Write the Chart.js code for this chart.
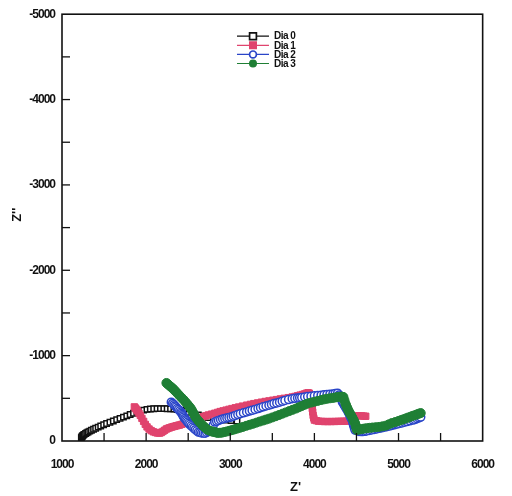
<!DOCTYPE html>
<html>
<head>
<meta charset="utf-8">
<script src="https://cdn.jsdelivr.net/npm/chart.js@4/dist/chart.umd.min.js"></script>
<style>
  html, body { margin: 0; padding: 0; background: #fff; }
  #wrap { width: 512px; height: 496px; }
</style>
</head>
<body>
<div id="wrap"><canvas id="c" width="512" height="496"></canvas></div>
<script>
// Impedance spectra (Nyquist form): Z' in ohm, Z'' in ohm (negative = capacitive)
const seriesNames = ['Dia 0', 'Dia 1', 'Dia 2', 'Dia 3'];

const dia0Re = [1230,1235,1240,1245,1255,1265,1280,1295,1310,1330,1350,1375,1400,1430,1460,1495,1530,1570,1610,1650,1690,1730,1770,1810,1850,1890,1930,1970,2010,2050,2090,2130,2170,2210,2250,2290,2330,2370,2410,2460,2510,2560,2620,2680,2740,2800,2870,2940,3010,3080];
const dia0Im = [-40,-48,-55,-62,-70,-78,-88,-97,-106,-116,-126,-138,-150,-163,-176,-190,-205,-220,-235,-250,-265,-280,-295,-310,-325,-340,-352,-362,-370,-375,-378,-380,-380,-380,-378,-376,-373,-368,-360,-348,-335,-320,-305,-290,-275,-262,-252,-244,-238,-235];

const dia1Re = [1860,1870,1880,1890,1900,1915,1931,1950,1970,1990,2011,2035,2060,2085,2110,2135,2160,2180,2200,2220,2240,2260,2280,2300,2320,2340,2360,2380,2400,2425,2450,2478,2506,2533,2560,2590,2620,2650,2680,2710,2740,2778,2816,2850,2880,2915,2950,2985,3020,3060,3100,3145,3195,3240,3280,3325,3370,3415,3460,3505,3550,3595,3640,3690,3736,3770,3800,3830,3860,3885,3905,3925,3940,3950,3960,3968,3975,3980,3985,3992,4000,4025,4050,4085,4120,4160,4200,4240,4280,4315,4350,4385,4420,4435,4450,4475,4500,4530,4560,4585,4610];
const dia1Im = [-400,-388,-375,-362,-350,-325,-300,-265,-230,-195,-165,-140,-122,-108,-100,-94,-92,-100,-112,-126,-140,-148,-155,-162,-168,-173,-178,-183,-188,-196,-205,-215,-225,-235,-245,-255,-265,-275,-285,-295,-305,-315,-325,-335,-345,-353,-362,-371,-380,-389,-398,-409,-420,-429,-438,-446,-455,-463,-470,-478,-485,-493,-500,-508,-515,-522,-530,-538,-545,-552,-560,-565,-560,-520,-460,-420,-380,-340,-300,-270,-245,-238,-232,-230,-228,-228,-228,-229,-230,-231,-232,-233,-235,-260,-285,-290,-295,-295,-295,-292,-290];

const dia2Re = [2299,2315,2330,2343,2356,2370,2385,2400,2414,2423,2432,2440,2448,2459,2470,2482,2494,2507,2520,2536,2552,2568,2585,2603,2621,2640,2660,2680,2701,2720,2740,2760,2780,2798,2816,2838,2860,2885,2910,2935,2960,2985,3011,3035,3060,3090,3120,3157,3195,3228,3260,3295,3330,3360,3391,3425,3460,3490,3520,3553,3586,3618,3650,3693,3736,3768,3800,3825,3850,3885,3920,3960,4000,4040,4080,4115,4150,4185,4220,4248,4276,4293,4310,4322,4333,4347,4360,4375,4390,4405,4420,4434,4448,4457,4465,4474,4483,4506,4530,4553,4575,4598,4620,4650,4680,4710,4740,4770,4800,4830,4860,4890,4920,4950,4980,5010,5040,5070,5100,5136,5172,5196,5220,5242,5264];
const dia2Im = [-455,-440,-425,-411,-397,-382,-368,-353,-339,-325,-310,-295,-280,-265,-250,-236,-222,-207,-193,-178,-164,-148,-133,-119,-105,-100,-95,-93,-92,-100,-110,-128,-150,-185,-222,-231,-240,-249,-258,-264,-270,-275,-280,-290,-300,-310,-320,-330,-340,-350,-360,-370,-380,-390,-400,-410,-420,-429,-438,-446,-455,-465,-475,-485,-495,-500,-505,-508,-510,-515,-520,-525,-530,-534,-537,-541,-545,-549,-552,-556,-560,-540,-520,-488,-455,-432,-410,-386,-362,-331,-300,-272,-245,-215,-185,-156,-128,-120,-112,-111,-110,-114,-118,-124,-130,-136,-142,-148,-155,-161,-168,-175,-182,-190,-198,-205,-212,-220,-228,-236,-245,-253,-262,-271,-280];

const dia3Re = [2241,2255,2270,2285,2300,2315,2330,2343,2356,2378,2400,2424,2448,2469,2490,2510,2529,2545,2560,2573,2586,2605,2625,2646,2667,2683,2700,2718,2736,2758,2780,2798,2816,2833,2850,2875,2900,2930,2960,2990,3020,3050,3080,3115,3150,3190,3230,3270,3310,3350,3390,3425,3460,3500,3540,3580,3620,3660,3700,3740,3780,3815,3850,3885,3920,3960,4000,4040,4080,4115,4150,4185,4220,4248,4276,4298,4320,4333,4345,4357,4368,4377,4385,4394,4402,4414,4425,4437,4448,4457,4465,4474,4483,4489,4495,4500,4505,4533,4560,4590,4620,4655,4690,4730,4770,4810,4850,4885,4920,4960,5000,5030,5060,5088,5115,5143,5170,5195,5220,5242,5264];
const dia3Im = [-680,-668,-655,-642,-630,-616,-602,-588,-575,-552,-528,-504,-480,-456,-432,-408,-385,-358,-332,-306,-280,-256,-233,-210,-187,-172,-157,-142,-128,-120,-112,-108,-105,-100,-95,-96,-98,-105,-112,-120,-128,-136,-145,-155,-165,-178,-190,-202,-215,-228,-240,-251,-262,-276,-290,-305,-320,-335,-350,-365,-380,-395,-410,-425,-440,-450,-460,-470,-480,-488,-495,-500,-505,-510,-515,-518,-520,-518,-515,-478,-440,-420,-400,-380,-360,-340,-320,-300,-280,-262,-245,-228,-210,-190,-170,-149,-128,-134,-140,-145,-150,-154,-158,-162,-165,-172,-180,-195,-210,-222,-235,-245,-255,-265,-275,-285,-295,-303,-312,-320,-327];

// Axis ranges and tick labels
const xMin = 1000, xMax = 6000, xStep = 500;
const yMin = -5000, yMax = 0, yStep = 500;
const xTickLabels = ['1000', '2000', '3000', '4000', '5000', '6000'];
const yTickLabels = ['0', '-1000', '-2000', '-3000', '-4000', '-5000'];
const xTitle = "Z'";
const yTitle = "Z''";

const toPoints = (re, im) => re.map((v, i) => ({ x: v, y: im[i] }));

const tickFont = { family: "'Liberation Sans Narrow', 'Arial Narrow', 'Liberation Sans', Arial, sans-serif", size: 12, weight: 'bold' };

const styles = [
  { color: '#111111', bg: '#ffffff', pointStyle: 'rect', radius: 3.8, bw: 1.5 },
  { color: '#e0446e', bg: '#e0446e', pointStyle: 'rect', radius: 4.5, bw: 1 },
  { color: '#2a45c8', bg: '#ffffff', pointStyle: 'circle', radius: 4.0, bw: 1.5 },
  { color: '#1f7f35', bg: '#1f7f35', pointStyle: 'circle', radius: 4.5, bw: 1 }
];

const seriesData = [
  toPoints(dia0Re, dia0Im),
  toPoints(dia1Re, dia1Im),
  toPoints(dia2Re, dia2Im),
  toPoints(dia3Re, dia3Im)
];

// later series are painted over earlier ones
const datasets = seriesNames.map((name, i) => ({
  label: name,
  data: seriesData[i],
  order: seriesNames.length - i,
  showLine: true,
  borderColor: styles[i].color,
  borderWidth: 1,
  backgroundColor: styles[i].bg,
  pointStyle: styles[i].pointStyle,
  pointRadius: styles[i].radius,
  pointBorderWidth: styles[i].bw,
  pointBorderColor: styles[i].color,
  pointBackgroundColor: styles[i].bg,
  pointHoverRadius: styles[i].radius
}));

// Frame, inward ticks, axis titles and the legend block
const framePlugin = {
  id: 'frame',
  beforeDraw(chart) {
    // condensed tick lettering
    chart.ctx.letterSpacing = '-1px';
  },
  afterDatasetsDraw(chart) {
    chart.ctx.letterSpacing = '0px';
  },
  afterDraw(chart) {
    const { ctx, chartArea: a, scales } = chart;
    ctx.save();
    ctx.strokeStyle = '#111';
    ctx.lineWidth = 1.6;
    ctx.strokeRect(a.left, a.top, a.right - a.left, a.bottom - a.top);

    ctx.lineWidth = 1.3;
    const tl = 8;
    scales.x.ticks.forEach(t => {
      const px = scales.x.getPixelForValue(t.value);
      if (px <= a.left + 1 || px >= a.right - 1) return;
      ctx.beginPath();
      ctx.moveTo(px, a.bottom);
      ctx.lineTo(px, a.bottom - tl);
      ctx.stroke();
    });
    scales.y.ticks.forEach(t => {
      const py = scales.y.getPixelForValue(t.value);
      if (py <= a.top + 1 || py >= a.bottom - 1) return;
      ctx.beginPath();
      ctx.moveTo(a.left, py);
      ctx.lineTo(a.left + tl, py);
      ctx.stroke();
    });

    // axis titles
    ctx.fillStyle = '#111';
    ctx.font = "bold 13px 'Liberation Sans', Arial, sans-serif";
    ctx.textAlign = 'center';
    ctx.textBaseline = 'middle';
    const xTitleX = a.left + (a.right - a.left) * 0.555;
    ctx.fillText(xTitle, xTitleX, a.bottom + 46);
    ctx.save();
    ctx.translate(17, a.top + (a.bottom - a.top) * 0.47);
    ctx.rotate(-Math.PI / 2);
    ctx.fillText(yTitle, 0, 0);
    ctx.restore();

    // legend
    const lx = a.left + (a.right - a.left) * 0.416;
    let ly = a.top + 22;
    const rowH = 9.1;
    ctx.font = "bold 10px 'Liberation Sans Narrow', 'Arial Narrow', 'Liberation Sans', Arial, sans-serif";
    ctx.letterSpacing = '-0.5px';
    ctx.textAlign = 'left';
    chart.data.datasets.forEach((ds, i) => {
      const s = styles[i];
      ctx.strokeStyle = s.color;
      ctx.lineWidth = 1.2;
      ctx.beginPath();
      ctx.moveTo(lx, ly);
      ctx.lineTo(lx + 32, ly);
      ctx.stroke();
      ctx.fillStyle = s.bg;
      ctx.strokeStyle = s.color;
      ctx.lineWidth = s.bw + 0.2;
      const cx = lx + 16, r = 3.4;
      ctx.beginPath();
      if (s.pointStyle === 'rect') {
        ctx.rect(cx - r, ly - r, 2 * r, 2 * r);
      } else {
        ctx.arc(cx, ly, r, 0, Math.PI * 2);
      }
      ctx.fill();
      ctx.stroke();
      ctx.fillStyle = '#111';
      ctx.fillText(ds.label, lx + 37, ly + 0.5);
      ly += rowH;
    });
    ctx.restore();
  }
};

new Chart(document.getElementById('c'), {
  type: 'scatter',
  data: { datasets },
  options: {
    responsive: false,
    animation: false,
    events: [],
    layout: { padding: { top: 13, right: 15, left: 0, bottom: 0 } },
    plugins: {
      legend: { display: false },
      tooltip: { enabled: false },
      title: { display: false }
    },
    scales: {
      x: {
        type: 'linear',
        min: xMin, max: xMax,
        grid: { display: false, drawTicks: false },
        border: { display: false },
        ticks: {
          stepSize: xStep,
          autoSkip: false,
          maxRotation: 0,
          padding: 16,
          color: '#111',
          font: tickFont,
          callback: v => xTickLabels.includes(String(v)) ? String(v) : ''
        },
        afterFit: s => { s.height = 55; }
      },
      y: {
        type: 'linear',
        reverse: true,
        min: yMin, max: yMax,
        grid: { display: false, drawTicks: false },
        border: { display: false },
        ticks: {
          stepSize: yStep,
          autoSkip: false,
          padding: 7,
          color: '#111',
          font: tickFont,
          callback: v => yTickLabels.includes(String(v)) ? String(v) : ''
        },
        afterFit: s => { s.width = 62; }
      }
    }
  },
  plugins: [framePlugin]
});
</script>
</body>
</html>
